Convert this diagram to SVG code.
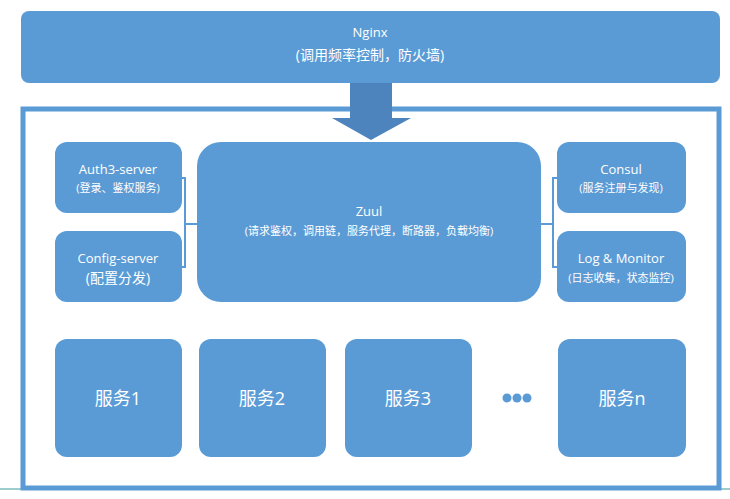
<svg xmlns="http://www.w3.org/2000/svg" width="730" height="499" viewBox="0 0 730 499">
<style>
.box{fill:#5B9BD5;}
.t{fill:#ffffff;font-family:"Open Sans","Noto Sans CJK SC",sans-serif;text-anchor:middle;}
.conn{fill:none;stroke:#5B9BD5;stroke-width:2;}
</style>
<rect x="0" y="0" width="730" height="499" fill="#ffffff"/>
<line x1="0" y1="489" x2="730" y2="489" stroke="#3a9a9a" stroke-width="1"/>
<g id="nginx">
<rect class="box" x="21" y="11" width="699" height="72" rx="8"/>
<text class="t" x="370" y="37" font-size="13">Nginx</text>
<text class="t" x="370" y="60" font-size="14">(调用频率控制，防火墙)</text>
</g>
<g id="container">
<rect x="23" y="109" width="696" height="379" fill="#ffffff" stroke="#5B9BD5" stroke-width="5"/>
</g>
<g id="connectors">
<path d="M350 83 H392 V118 H411 L371 140 L332 118 H350 Z" fill="#4D84BD"/>
<path class="conn" d="M182 178 H185 V267 H182 M185 224 H197"/>
<path class="conn" d="M557 178 H553 V267 H557 M553 224 H541"/>
</g>
<g id="auth">
<rect class="box" x="55" y="142" width="127" height="71" rx="12"/>
<text class="t" x="118" y="174" font-size="13">Auth3-server</text>
<text class="t" x="118" y="192" font-size="11">(登录、鉴权服务)</text>
</g>
<g id="config">
<rect class="box" x="55" y="231" width="127" height="71" rx="12"/>
<text class="t" x="118" y="263" font-size="13">Config-server</text>
<text class="t" x="118" y="283" font-size="14">(配置分发)</text>
</g>
<g id="zuul">
<rect class="box" x="197" y="142" width="344" height="160" rx="24"/>
<text class="t" x="369" y="216" font-size="13">Zuul</text>
<text class="t" x="369" y="235" font-size="11">(请求鉴权，调用链，服务代理，断路器，负载均衡)</text>
</g>
<g id="consul">
<rect class="box" x="557" y="142" width="129" height="71" rx="12"/>
<text class="t" x="621" y="174" font-size="13">Consul</text>
<text class="t" x="621" y="192" font-size="11">(服务注册与发现)</text>
</g>
<g id="log">
<rect class="box" x="557" y="231" width="129" height="71" rx="12"/>
<text class="t" x="621" y="263" font-size="13">Log &amp; Monitor</text>
<text class="t" x="621" y="282" font-size="11">(日志收集，状态监控)</text>
</g>
<g id="svc1">
<rect class="box" x="55" y="339" width="127" height="118" rx="12"/>
<text class="t" x="118" y="405" font-size="18">服务1</text>
</g>
<g id="svc2">
<rect class="box" x="199" y="339" width="127" height="118" rx="12"/>
<text class="t" x="262" y="405" font-size="18">服务2</text>
</g>
<g id="svc3">
<rect class="box" x="345" y="339" width="127" height="118" rx="12"/>
<text class="t" x="408" y="405" font-size="18">服务3</text>
</g>
<g id="dots">
<circle cx="507" cy="398" r="4.5" fill="#5B9BD5"/>
<circle cx="517" cy="398" r="4.5" fill="#5B9BD5"/>
<circle cx="527" cy="398" r="4.5" fill="#5B9BD5"/>
</g>
<g id="svcn">
<rect class="box" x="558" y="339" width="128" height="118" rx="12"/>
<text class="t" x="622" y="405" font-size="18">服务n</text>
</g>
</svg>
